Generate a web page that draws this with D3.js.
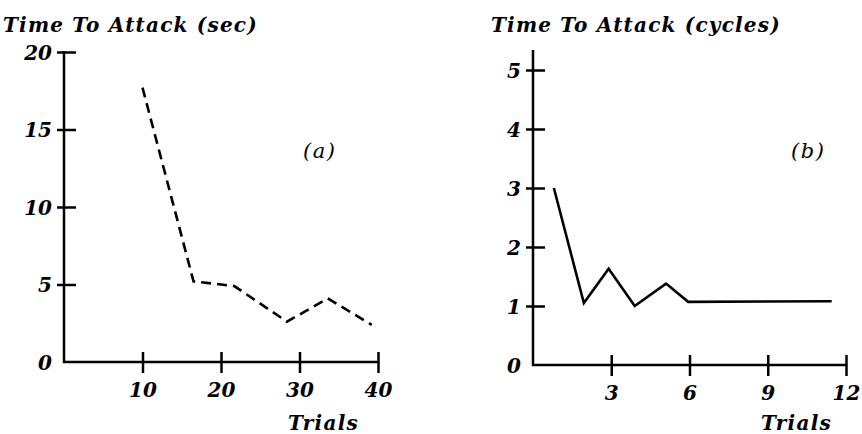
<!DOCTYPE html>
<html>
<head>
<meta charset="utf-8">
<script src="https://cdn.jsdelivr.net/npm/d3@7"></script>
<style>
  body { margin: 0; background: #fff; }
  svg { display: block; }
  text { font-family: "DejaVu Serif", serif; font-style: italic; fill: #000; }
</style>
</head>
<body>
<div id="chart"></div>
<script>
// panel (a): time to attack in seconds, dashed line
var trialsA = [10, 16.5, 21.7, 28.4, 33.6, 39.2]
var secsA = [17.7, 5.2, 4.9, 2.6, 4.1, 2.4]
var xTicksA = [10, 20, 30, 40]
var yTicksA = [0, 5, 10, 15, 20]

// panel (b): time to attack in cycles, solid line
var trialsB = [0.8, 1.95, 2.9, 3.9, 5.1, 5.95, 11.45]
var cyclesB = [3.0, 1.05, 1.63, 1.0, 1.38, 1.07, 1.08]
var xTicksB = [3, 6, 9, 12]
var yTicksB = [0, 1, 2, 3, 4, 5]

var width = 862, height = 434

var svg = d3.select("#chart")
  .append("svg")
    .attr("width", width)
    .attr("height", height)

function panel(opt) {
  var x = d3.scaleLinear().domain(opt.xDomain).range(opt.xRange)
  var y = d3.scaleLinear().domain(opt.yDomain).range(opt.yRange)
  var g = svg.append("g")

  // y axis, ticks cross the line (none at 0, the corner)
  var ya = g.append("g")
    .attr("transform", "translate(" + x(0) + ",0)")
    .call(d3.axisLeft(y).tickValues(opt.yTicks).tickSizeOuter(0).tickFormat(d3.format("d")))
  ya.select(".domain").remove()
  ya.selectAll(".tick line")
    .attr("x1", function(d) { return d == 0 ? 0 : 12 })
    .attr("x2", function(d) { return d == 0 ? 0 : -7 })
    .attr("stroke-width", 2.5)
  ya.selectAll(".tick text")
    .attr("x", -12).attr("dy", "0.36em")
    .style("font-size", "20px").style("font-weight", "bold")
  g.append("line")
    .attr("x1", x(0)).attr("x2", x(0))
    .attr("y1", y(0) + 1).attr("y2", opt.yTop)
    .attr("stroke", "#000").attr("stroke-width", 2.5)

  // x axis
  var xa = g.append("g")
    .attr("transform", "translate(0," + y(0) + ")")
    .call(d3.axisBottom(x).tickValues(opt.xTicks).tickSizeOuter(0).tickFormat(d3.format("d")))
  xa.select(".domain").remove()
  xa.selectAll(".tick line").attr("y1", -10).attr("y2", 11).attr("stroke-width", 2.5)
  xa.selectAll(".tick text")
    .attr("y", 21).attr("dy", "0.71em")
    .style("font-size", "20px").style("font-weight", "bold")
  g.append("line")
    .attr("x1", x(0) - 1).attr("x2", x(opt.xDomain[1]))
    .attr("y1", y(0)).attr("y2", y(0))
    .attr("stroke", "#000").attr("stroke-width", 2.5)

  var line = d3.line()
    .x(function(d) { return x(d[0]) })
    .y(function(d) { return y(d[1]) })

  g.append("path")
    .datum(d3.zip(opt.xs, opt.ys))
    .attr("d", line)
    .attr("fill", "none")
    .attr("stroke", "#000")
    .attr("stroke-width", 2.6)
    .attr("stroke-dasharray", opt.dash)

  g.append("text")
    .attr("x", opt.titleX).attr("y", 32)
    .style("font-size", "20px").style("font-weight", "bold")
    .style("letter-spacing", "1.2px")
    .text(opt.title)

  g.append("text")
    .attr("x", opt.tagX).attr("y", 158)
    .style("font-size", "21px")
    .style("letter-spacing", "1.5px")
    .text(opt.tag)

  g.append("text")
    .attr("x", opt.trialsX).attr("y", 430)
    .style("font-size", "20px").style("font-weight", "bold")
    .style("letter-spacing", "1.3px")
    .text("Trials")
}

panel({
  xDomain: [0, 40], xRange: [64, 378],
  yDomain: [0, 20], yRange: [362, 52], yTop: 51,
  xTicks: xTicksA, yTicks: yTicksA,
  xs: trialsA, ys: secsA, dash: "10,6",
  title: "Time To Attack (sec)", titleX: 3,
  tag: "(a)", tagX: 303, trialsX: 288
})

panel({
  xDomain: [0, 12], xRange: [533, 846],
  yDomain: [0, 5], yRange: [365, 70], yTop: 50,
  xTicks: xTicksB, yTicks: yTicksB,
  xs: trialsB, ys: cyclesB, dash: null,
  title: "Time To Attack (cycles)", titleX: 491,
  tag: "(b)", tagX: 791, trialsX: 761
})
</script>
</body>
</html>
